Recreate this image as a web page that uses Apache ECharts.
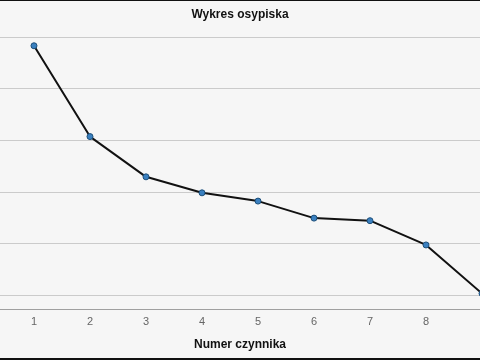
<!DOCTYPE html>
<html>
<head>
<meta charset="utf-8">
<script src="https://cdn.jsdelivr.net/npm/echarts@6/dist/echarts.min.js"></script>
<style>html,body{margin:0;padding:0;background:#f6f6f6;}#c{width:480px;height:360px;}</style>
</head>
<body>
<div id="c"></div>
<script>
var factors = [1, 2, 3, 4, 5, 6, 7, 8, 9];
var eigenvalues = [4.83, 3.07, 2.29, 1.98, 1.82, 1.49, 1.44, 0.97, 0.03];
var yTicks = [0, 1, 2, 3, 4, 5];
var titleText = 'Wykres osypiska';
var xName = 'Numer czynnika';

var seriesData = factors.map(function (f, i) { return [f, eigenvalues[i]]; });

var chart = echarts.init(document.getElementById('c'), null, {renderer: 'canvas'});
chart.setOption({
  backgroundColor: '#f6f6f6',
  animation: false,
  title: [
    {text: titleText, left: 'center', top: 4, textStyle: {fontFamily: 'Liberation Sans', fontSize: 12, fontWeight: 'bold', color: '#111'}},
    {text: xName, left: 'center', top: 334, textStyle: {fontFamily: 'Liberation Sans', fontSize: 12, fontWeight: 'bold', color: '#111'}}
  ],
  grid: {left: 0, right: 0, top: 37, bottom: 65, outerBoundsMode: 'none'},
  xAxis: {
    type: 'value', min: 0.393, max: 8.964, offset: 14,
    axisLine: {show: true, onZero: false, lineStyle: {color: '#a0a0a0', width: 1}},
    axisTick: {show: false},
    axisLabel: {margin: 7, color: '#666', fontFamily: 'Liberation Sans', fontSize: 11,
                customValues: factors, showMinLabel: true, showMaxLabel: true},
    splitLine: {show: false}
  },
  yAxis: {
    type: 'value', min: yTicks[0], max: yTicks[yTicks.length - 1], interval: 1,
    axisLine: {show: false}, axisTick: {show: false}, axisLabel: {show: false},
    splitLine: {show: true, lineStyle: {color: '#cbcbcb', width: 1}}
  },
  series: [{
    type: 'line',
    data: seriesData,
    clip: false,
    symbol: 'circle',
    symbolSize: 6,
    lineStyle: {color: '#111', width: 2},
    itemStyle: {color: '#3a80c0', borderColor: '#1d4f7a', borderWidth: 1}
  }],
  graphic: [
    {type: 'rect', shape: {x: 0, y: 0, width: 480, height: 1}, style: {fill: '#111'}, silent: true},
    {type: 'rect', shape: {x: 0, y: 358, width: 480, height: 2}, style: {fill: '#111'}, silent: true}
  ]
});
</script>
</body>
</html>
